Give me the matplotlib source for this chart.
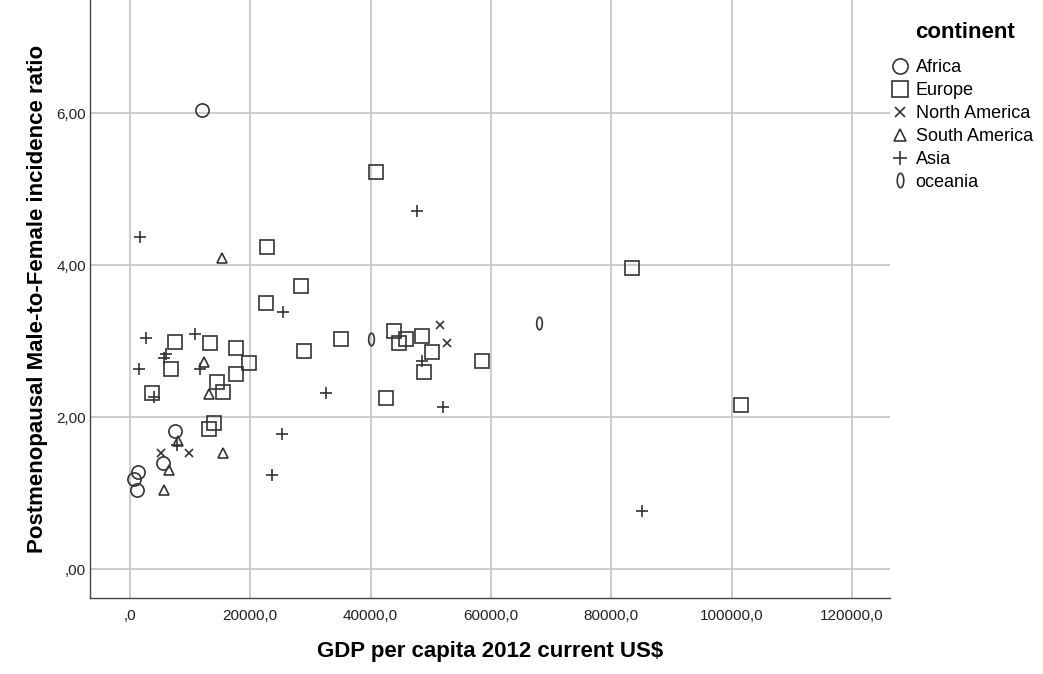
import matplotlib
matplotlib.use("Agg")
import matplotlib.pyplot as plt
from matplotlib.path import Path
from matplotlib.ticker import FuncFormatter, MultipleLocator
import numpy as np

plt.rcParams['font.family'] = ['Liberation Sans', 'DejaVu Sans']

# GDP per capita (current US$, 2012) and postmenopausal male-to-female incidence ratio
africa_gdp = [12000, 7480, 1330, 665, 1160, 5490]
africa_ratio = [6.04, 1.82, 1.28, 1.18, 1.04, 1.40]

europe_gdp = [7480, 6820, 3660, 13300, 17620, 19780, 17620, 14460, 15460, 13960,
              13130, 22770, 28430, 22600, 35080, 28930, 43890, 45880, 44720, 48550,
              50210, 48880, 58520, 42560, 83460, 101580, 40900]
europe_ratio = [2.99, 2.63, 2.32, 2.97, 2.91, 2.71, 2.57, 2.46, 2.33, 1.92,
                1.84, 4.24, 3.72, 3.50, 3.03, 2.87, 3.13, 3.03, 2.97, 3.07,
                2.86, 2.59, 2.74, 2.25, 3.96, 2.16, 5.22]

north_america_gdp = [5150, 9810, 51540, 52700]
north_america_ratio = [1.53, 1.53, 3.21, 2.97]

south_america_gdp = [7980, 6480, 15460, 5650, 12300, 13130, 15300]
south_america_ratio = [1.68, 1.31, 1.53, 1.04, 2.72, 2.30, 4.10]

asia_gdp = [2660, 10800, 5990, 5650, 1500, 4000, 11640, 7810, 1660, 25440,
            32580, 48550, 52030, 25270, 23610, 85120, 47700]
asia_ratio = [3.04, 3.09, 2.83, 2.78, 2.64, 2.26, 2.64, 1.63, 4.37, 3.39,
              2.32, 2.74, 2.13, 1.78, 1.24, 0.76, 4.71]

oceania_gdp = [40070, 68000]
oceania_ratio = [3.03, 3.24]

# narrow upright ellipse used as the oceania marker
theta = np.linspace(0, 2 * np.pi, 60)
ellipse = Path(np.column_stack([0.45 * np.cos(theta), np.sin(theta)]), closed=True)

groups = [
    ("Africa", africa_gdp, africa_ratio, 'o', 9.5),
    ("Europe", europe_gdp, europe_ratio, 's', 9.5),
    ("North America", north_america_gdp, north_america_ratio, 'x', 6),
    ("South America", south_america_gdp, south_america_ratio, '^', 7),
    ("Asia", asia_gdp, asia_ratio, '+', 9),
    ("oceania", oceania_gdp, oceania_ratio, ellipse, 9),
]

W, H = 1043, 674
fig = plt.figure(figsize=(W / 100, H / 100), dpi=100)
ax = fig.add_axes([90 / W, (H - 598) / H, 800 / W, 598 / H])

edge = '#333333'
handles = []
for name, xs, ys, mk, ms in groups:
    h, = ax.plot(xs, ys, linestyle='none', marker=mk, markersize=ms,
                 markerfacecolor='none', markeredgecolor=edge,
                 markeredgewidth=1.2, label=name, zorder=3)
    handles.append(h)

ax.set_xlim(-6650, 126350)
ax.set_ylim(-0.38, 7.49)
ax.xaxis.set_major_locator(MultipleLocator(20000))
ax.yaxis.set_major_locator(MultipleLocator(2))
ax.xaxis.set_major_formatter(FuncFormatter(
    lambda v, p: ',0' if v == 0 else f'{v:.1f}'.replace('.', ',')))
ax.yaxis.set_major_formatter(FuncFormatter(
    lambda v, p: ',00' if v == 0 else f'{v:.2f}'.replace('.', ',')))

ax.grid(True, color='#c8c8c8', linewidth=1.3)
ax.set_axisbelow(True)
for s in ('top', 'right'):
    ax.spines[s].set_visible(False)
for s in ('left', 'bottom'):
    ax.spines[s].set_color('#444444')
    ax.spines[s].set_linewidth(1.0)
ax.tick_params(axis='x', length=0, labelsize=11, colors='#222222', pad=8)
ax.tick_params(axis='y', length=0, labelsize=11, colors='#222222', pad=3)

ax.set_xlabel('GDP per capita 2012 current US$', fontsize=16,
              fontweight='bold', labelpad=13)
ax.set_ylabel('Postmenopausal Male-to-Female incidence ratio', fontsize=16,
              fontweight='bold', labelpad=6)

# legend: heading drawn as its own text, entries listed below it
fig.text(965 / W, 1 - 32 / H, 'continent', fontsize=16, fontweight='bold',
         ha='center', va='center')
leg = fig.legend(handles=handles, loc='upper left',
                 bbox_to_anchor=(893 / W, 1 - 59 / H), frameon=False,
                 fontsize=13, handlelength=0.8, handletextpad=0.45,
                 labelspacing=0.33, borderaxespad=0, borderpad=0,
                 markerscale=1.15)

fig.savefig('out.png', dpi=100)
